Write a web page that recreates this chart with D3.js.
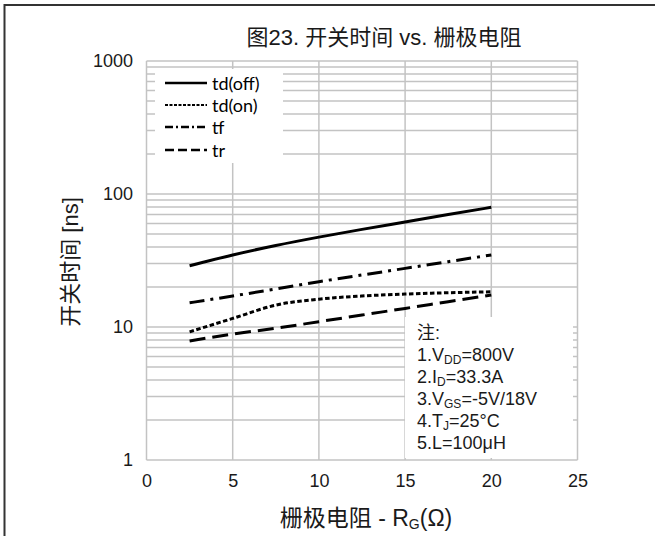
<!DOCTYPE html>
<html>
<head>
<meta charset="utf-8">
<script src="https://cdn.jsdelivr.net/npm/d3@7"></script>
<style>
  html, body { margin: 0; padding: 0; background: #fff; }
  svg { display: block; }
</style>
</head>
<body>
<div id="chart"></div>
<script>
// ---------- data ----------
const gateResistance = [2.5, 5, 7.5, 10, 12.5, 15, 17.5, 20];
const tdOff = [28.9, 34.8, 41.0, 47.4, 54.2, 61.6, 70.0, 79.4];
const tdOn  = [9.2, 11.6, 14.6, 16.2, 17.1, 17.7, 18.1, 18.4];
const tf    = [15.2, 17.1, 19.3, 21.9, 24.6, 27.6, 31.0, 34.8];
const tr    = [7.85, 8.86, 9.78, 10.96, 12.3, 13.8, 15.5, 17.4];
const seriesNames = ["td(off)", "td(on)", "tf", "tr"];
const xTicks = [0, 5, 10, 15, 20, 25];
const yTicks = [1, 10, 100, 1000];
const titleText = "图23. 开关时间 vs. 栅极电阻";
const yLabelText = "开关时间 [ns]";
const noteLines = [
  [["注:", ""]],
  [["1.V", ""], ["DD", "sub"], ["=800V", ""]],
  [["2.I", ""], ["D", "sub"], ["=33.3A", ""]],
  [["3.V", ""], ["GS", "sub"], ["=-5V/18V", ""]],
  [["4.T", ""], ["J", "sub"], ["=25°C", ""]],
  [["5.L=100μH", ""]]
];

// ---------- layout ----------
const W = 655, H = 536;
const plot = { left: 146.5, right: 577.5, top: 61, bottom: 460 };
const FONT = "'Liberation Sans', Arial, 'Noto Sans CJK SC', sans-serif";
const gridColor = "#c3c3c3";
const textColor = "#1a1a1a";

const svg = d3.select("#chart").append("svg")
  .attr("width", W).attr("height", H);

svg.append("rect").attr("width", W).attr("height", H).attr("fill", "#fff");

const x = d3.scaleLinear().domain([0, 25]).range([plot.left, plot.right]);
const y = d3.scaleLog().domain([1, 1000]).range([plot.bottom, plot.top]);

// outer frame (top & left)
svg.append("line").attr("x1", 4).attr("x2", W).attr("y1", 5).attr("y2", 5)
  .attr("stroke", "#333").attr("stroke-width", 2);
svg.append("line").attr("x1", 4.5).attr("x2", 4.5).attr("y1", 4).attr("y2", H)
  .attr("stroke", "#333").attr("stroke-width", 2);

// grid
const grid = svg.append("g");
const minorVals = [];
for (let k = 0; k < 3; k++) for (let m = 1; m <= 9; m++) minorVals.push(m * Math.pow(10, k));
minorVals.push(1000);
grid.selectAll("line.h").data(minorVals).enter().append("line")
  .attr("x1", plot.left).attr("x2", plot.right)
  .attr("y1", d => y(d)).attr("y2", d => y(d))
  .attr("stroke", gridColor).attr("stroke-width", 1.5);
grid.selectAll("line.v").data(xTicks).enter().append("line")
  .attr("x1", d => x(d)).attr("x2", d => x(d))
  .attr("y1", plot.top).attr("y2", plot.bottom)
  .attr("stroke", gridColor).attr("stroke-width", 1.5);

// legend and note backgrounds
svg.append("rect").attr("x", 155).attr("y", 69).attr("width", 128).attr("height", 94).attr("fill", "#fff");
svg.append("rect").attr("x", 405).attr("y", 317).attr("width", 168).attr("height", 141).attr("fill", "#fff");

// axes
const yAxis = d3.axisLeft(y).tickValues(yTicks).tickFormat(d3.format("d")).tickSize(0).tickPadding(13.5);
const gy = svg.append("g").attr("transform", `translate(${plot.left},0)`).call(yAxis);
gy.select(".domain").remove();
gy.selectAll("text").attr("font-family", FONT).attr("font-size", 18).attr("fill", textColor);

const xAxis = d3.axisBottom(x).tickValues(xTicks).tickFormat(d3.format("d")).tickSize(0).tickPadding(14);
const gx = svg.append("g").attr("transform", `translate(0,${plot.bottom})`).call(xAxis);
gx.select(".domain").remove();
gx.selectAll("text").attr("font-family", FONT).attr("font-size", 18).attr("fill", textColor);

// series
const styles = [
  { data: tdOff, dash: null, w: 3 },
  { data: tdOn,  dash: "4.5,2.5", w: 3 },
  { data: tf,    dash: "15,6,3,6", w: 3 },
  { data: tr,    dash: "16,7", w: 3 }
];
const line = d3.line().x(d => x(d[0])).y(d => y(d[1])).curve(d3.curveMonotoneX);
styles.forEach(s => {
  svg.append("path")
    .datum(gateResistance.map((r, i) => [r, s.data[i]]))
    .attr("d", line)
    .attr("fill", "none")
    .attr("stroke", "#000")
    .attr("stroke-width", s.w)
    .attr("stroke-dasharray", s.dash);
});

// legend
const legendDash = [null, "3,1.5", "8,3,2,3", "9,4"];
const legendRows = [83, 105, 127, 150];
seriesNames.forEach((name, i) => {
  svg.append("line").attr("x1", 165).attr("x2", 207)
    .attr("y1", legendRows[i]).attr("y2", legendRows[i])
    .attr("stroke", "#000").attr("stroke-width", i === 1 ? 2 : 2.5)
    .attr("stroke-dasharray", legendDash[i]);
  svg.append("text").attr("x", 212).attr("y", legendRows[i] + 6.5)
    .attr("font-family", "Lato, 'Open Sans', sans-serif").attr("font-size", 18)
    .attr("fill", "#000").text(name);
});

// note
noteLines.forEach((parts, i) => {
  const t = svg.append("text").attr("x", 417).attr("y", 339 + i * 22)
    .attr("font-family", FONT).attr("font-size", 18).attr("fill", textColor);
  let prevSub = false;
  parts.forEach(([txt, kind]) => {
    const ts = t.append("tspan").text(txt);
    if (kind === "sub") {
      ts.attr("font-size", 12).attr("dy", 3);
      prevSub = true;
    } else {
      if (prevSub) ts.attr("dy", -3);
      prevSub = false;
    }
  });
});

// title
svg.append("text").attr("x", 384).attr("y", 45).attr("text-anchor", "middle")
  .attr("font-family", FONT).attr("font-size", 22).attr("fill", textColor).text(titleText);

// y label
svg.append("text").attr("transform", "translate(78,262) rotate(-90)").attr("text-anchor", "middle")
  .attr("font-family", FONT).attr("font-size", 22).attr("fill", textColor).text(yLabelText);

// x label
const xl = svg.append("text").attr("x", 366).attr("y", 526).attr("text-anchor", "middle")
  .attr("font-family", FONT).attr("font-size", 23).attr("fill", textColor);
xl.append("tspan").text("栅极电阻 - R");
xl.append("tspan").attr("font-size", 14).attr("dy", 3).text("G");
xl.append("tspan").attr("dy", -3).text("(Ω)");
</script>
</body>
</html>
